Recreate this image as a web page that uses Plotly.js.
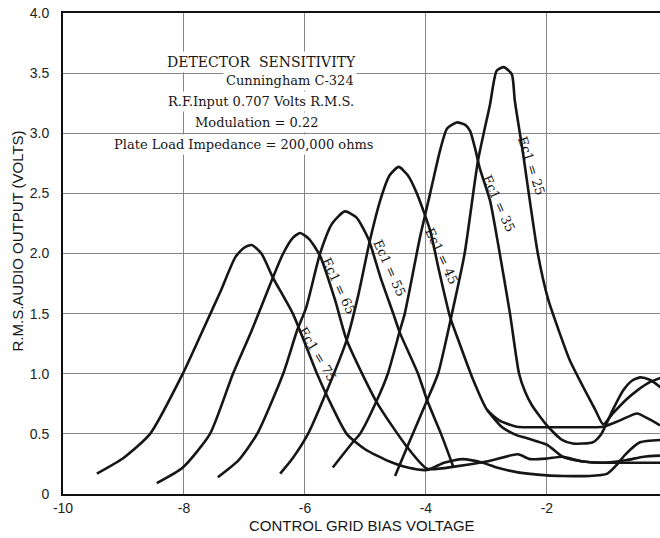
<!DOCTYPE html>
<html><head><meta charset="utf-8">
<script src="https://cdn.plot.ly/plotly-3.0.1.min.js"></script>
<style>html,body{margin:0;padding:0;background:#fff}</style>
</head><body>
<div id="chart" style="width:660px;height:538px"></div>
<script>
// ---- data ----
const ec25_x = [-4.51,-4.31,-3.98,-3.8,-3.57,-3.36,-3.14,-2.94,-2.83,-2.71,-2.58,-2.53,-2.4,-2.15,-1.98,-1.79,-1.62,-1.4,-1.2,-1.07,-0.91,-0.7,-0.51,-0.3,-0.1];
const ec25_y = [0.15,0.39,0.78,1.00,1.50,2.00,2.77,3.24,3.52,3.55,3.49,3.27,2.85,2.00,1.62,1.34,1.11,0.89,0.70,0.58,0.67,0.78,0.86,0.93,0.97];

const ec35_x = [-5.54,-5.21,-5.09,-4.81,-4.63,-4.43,-4.35,-4.1,-3.93,-3.77,-3.65,-3.49,-3.35,-3.27,-3.19,-3.11,-2.94,-2.8,-2.61,-2.46,-2.36,-2.25,-2.0,-1.75,-1.57,-1.24,-1.1,-0.91,-0.74,-0.6,-0.46,-0.3,-0.1];
const ec35_y = [0.22,0.43,0.50,0.78,1.00,1.36,1.50,2.13,2.50,2.85,3.04,3.09,3.07,3.02,2.88,2.71,2.44,2.06,1.50,1.00,0.85,0.74,0.57,0.45,0.42,0.43,0.50,0.70,0.86,0.94,0.97,0.95,0.88];

const ec45_x = [-6.41,-6.2,-5.95,-5.62,-5.31,-5.12,-4.93,-4.75,-4.6,-4.45,-4.3,-4.15,-3.93,-3.78,-3.6,-3.45,-3.22,-2.99,-2.78,-2.5,-2.0,-1.5,-1.07,-0.8,-0.51,-0.3,-0.13];
const ec45_y = [0.17,0.30,0.50,0.88,1.28,1.65,2.10,2.45,2.65,2.72,2.65,2.50,2.19,1.85,1.47,1.26,0.95,0.70,0.61,0.56,0.555,0.555,0.56,0.61,0.67,0.62,0.57];

const ec55_x = [-7.44,-7.1,-6.79,-6.36,-6.13,-5.98,-5.75,-5.55,-5.34,-5.15,-4.95,-4.75,-4.54,-4.43,-4.13,-3.98,-3.75,-3.55];
const ec55_y = [0.14,0.28,0.50,1.00,1.36,1.55,2.00,2.25,2.35,2.30,2.12,1.80,1.50,1.34,1.00,0.78,0.50,0.23];

const ec65_x = [-8.45,-8.02,-7.57,-7.19,-6.88,-6.53,-6.36,-6.2,-6.08,-5.93,-5.75,-5.5,-5.31,-4.81,-4.31,-3.98,-3.5,-3.0,-2.48,-2.28,-2.0,-1.74,-1.4,-1.07,-0.7,-0.4,-0.1];
const ec65_y = [0.09,0.22,0.50,1.00,1.36,1.80,2.00,2.13,2.17,2.12,1.98,1.61,1.28,0.76,0.39,0.21,0.23,0.27,0.33,0.29,0.295,0.31,0.27,0.26,0.28,0.31,0.32];

const ec75_x = [-9.44,-9.0,-8.56,-8.02,-7.69,-7.4,-7.15,-7.0,-6.88,-6.72,-6.53,-6.2,-5.8,-5.62,-5.31,-5.0,-4.6,-4.3,-3.98,-3.7,-3.39,-3.06,-2.83,-2.48,-2.0,-1.74,-1.3,-1.0,-0.85,-0.7,-0.46,-0.1];
const ec75_y = [0.17,0.30,0.50,1.00,1.36,1.68,1.97,2.05,2.07,2.00,1.80,1.50,1.00,0.80,0.50,0.37,0.27,0.22,0.20,0.26,0.29,0.26,0.22,0.18,0.155,0.15,0.15,0.17,0.24,0.33,0.43,0.45];

// unlabelled branch leaving the Ec1=45 curve
const branch_x = [-2.99,-2.75,-2.5,-2.3,-2.0,-1.74,-1.4,-1.07,-0.6,-0.1];
const branch_y = [0.70,0.56,0.49,0.46,0.41,0.31,0.27,0.26,0.26,0.26];

const curveLabels = ["Ec1 = 25","Ec1 = 35","Ec1 = 45","Ec1 = 55","Ec1 = 65","Ec1 = 75"];
const titleLines = ["DETECTOR  SENSITIVITY","Cunningham C-324","R.F.Input 0.707 Volts R.M.S.","Modulation = 0.22","Plate Load Impedance = 200,000 ohms"];
const xTickVals = [-10,-8,-6,-4,-2];
const xTickText = ["-10","-8","-6","-4","-2"];
const yTickVals = [0,0.5,1,1.5,2,2.5,3,3.5,4];
const yTickText = ["0","0.5","1.0","1.5","2.0","2.5","3.0","3.5","4.0"];
const xTitle = "CONTROL GRID BIAS VOLTAGE";
const yTitle = "R.M.S.AUDIO OUTPUT (VOLTS)";

// ---- build ----
const ink = '#161616';
function curve(x, y){
  return {x:x, y:y, type:'scatter', mode:'lines', hoverinfo:'skip', showlegend:false,
    line:{color:ink, width:2.6, shape:'spline', smoothing:0.6}};
}
const data = [
  curve(ec75_x, ec75_y), curve(ec65_x, ec65_y), curve(ec55_x, ec55_y),
  curve(ec45_x, ec45_y), curve(ec35_x, ec35_y), curve(ec25_x, ec25_y),
  curve(branch_x, branch_y)
];

const serif = 'DejaVu Serif, Liberation Serif, serif';
const sans = 'Liberation Sans, Arial, sans-serif';

const labelPos = [
  {x:-2.26, y:2.73, a:72},
  {x:-2.79, y:2.42, a:66},
  {x:-3.75, y:1.98, a:65},
  {x:-4.61, y:1.88, a:66},
  {x:-5.45, y:1.73, a:65},
  {x:-5.79, y:1.16, a:59}
];
const annotations = [];
curveLabels.forEach((t,i)=>{
  annotations.push({x:labelPos[i].x, y:labelPos[i].y, xref:'x', yref:'y', text:t,
    xanchor:'center', yanchor:'middle',
    showarrow:false, textangle:labelPos[i].a, font:{family:serif, size:13, color:ink}});
});
const titlePos = [
  {x:-6.72, y:3.59, s:14},
  {x:-6.25, y:3.44, s:13},
  {x:-6.73, y:3.26, s:13},
  {x:-6.80, y:3.09, s:13},
  {x:-7.00, y:2.91, s:13}
];
titleLines.forEach((t,i)=>{
  annotations.push({x:titlePos[i].x, y:titlePos[i].y, xref:'x', yref:'y', text:t,
    xanchor:'center', yanchor:'middle',
    showarrow:false, bgcolor:'#ffffff', borderpad:2,
    font:{family:serif, size:titlePos[i].s, color:ink}});
});
annotations.push({x:-0.077, y:0.525, xref:'paper', yref:'paper', text:yTitle, showarrow:false,
  xanchor:'center', yanchor:'middle',
  textangle:-90, font:{family:sans, size:15, color:ink}});
annotations.push({x:0.501, y:-0.066, xref:'paper', yref:'paper', text:xTitle, showarrow:false,
  xanchor:'center', yanchor:'middle',
  font:{family:sans, size:15, color:ink}});

const layout = {
  width:660, height:538,
  margin:{l:63, r:0, t:13, b:44},
  paper_bgcolor:'#ffffff', plot_bgcolor:'#ffffff',
  showlegend:false,
  xaxis:{range:[-10,-0.13], tickvals:xTickVals, ticktext:xTickText,
    showgrid:true, gridcolor:'#858585', gridwidth:1, zeroline:false,
    showline:true, linecolor:'#111', linewidth:2, mirror:true,
    ticks:'', tickfont:{family:sans, size:14, color:'#222'}, fixedrange:true},
  yaxis:{range:[0,4], tickvals:yTickVals, ticktext:yTickText,
    showgrid:true, gridcolor:'#858585', gridwidth:1, zeroline:false,
    showline:true, linecolor:'#111', linewidth:2,
    ticks:'outside', ticklen:9, tickcolor:'rgba(0,0,0,0)',
    tickfont:{family:sans, size:14, color:'#222'}, fixedrange:true},
  annotations:annotations
};
Plotly.newPlot('chart', data, layout, {displayModeBar:false, staticPlot:true});
</script>
</body></html>
